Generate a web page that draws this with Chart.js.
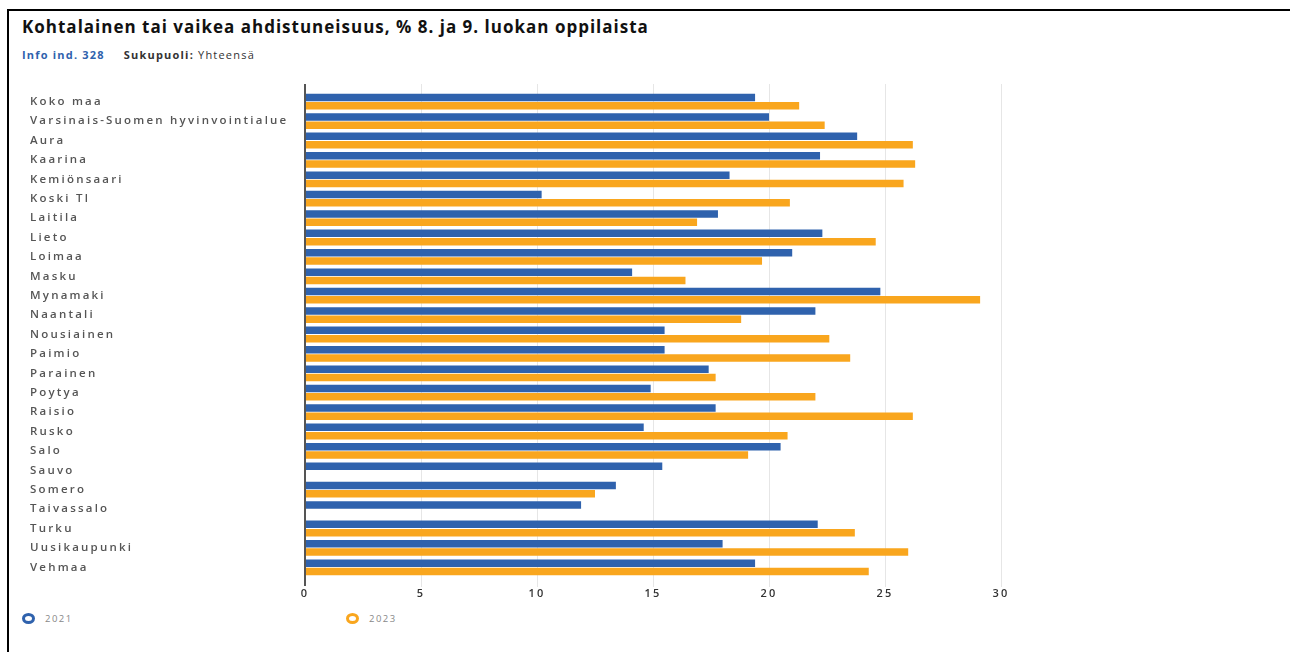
<!DOCTYPE html>
<html>
<head>
<meta charset="utf-8">
<script src="https://cdn.jsdelivr.net/npm/chart.js@4/dist/chart.umd.min.js"></script>
<style>
  body { margin: 0; width: 1290px; height: 652px; overflow: hidden; background: #fff; font-family: 'Open Sans', sans-serif; }
  .frame { position: absolute; left: 7px; top: 9px; width: 1290px; height: 650px; border-left: 2px solid #000; border-top: 2px solid #000; }
  .title { position: absolute; left: 22px; top: 15px; font-size: 17px; font-weight: 700; color: #111; white-space: nowrap; letter-spacing: 1px; }
  .sub { position: absolute; left: 22px; top: 47px; font-size: 11px; color: #333; white-space: nowrap; letter-spacing: 1.2px; }
  .sub .info { color: #2f62ad; font-weight: 700; margin-right: 19px; }
  .sub b { font-weight: 700; }
  #chart { position: absolute; left: 0; top: 76px; }
  .leg { position: absolute; top: 612px; font-size: 9.5px; color: #888; display: flex; align-items: center; letter-spacing: 1.5px; }
  .ring { width: 13px; height: 11px; border-radius: 50%; border: 3px solid; box-sizing: border-box; margin-right: 10px; }
</style>
</head>
<body>
<div class="frame"></div>
<div class="title">Kohtalainen tai vaikea ahdistuneisuus, % 8. ja 9. luokan oppilaista</div>
<div class="sub"><span class="info">Info ind. 328</span><b>Sukupuoli:</b> Yhteensä</div>
<canvas id="chart" width="1020" height="531"></canvas>
<div class="leg" style="left:22px"><span class="ring" style="border-color:#2f62ad"></span>2021</div>
<div class="leg" style="left:346px"><span class="ring" style="border-color:#f9a61e"></span>2023</div>
<script>
// data
const areas = ['Koko maa', 'Varsinais-Suomen hyvinvointialue', 'Aura', 'Kaarina', 'Kemiönsaari', 'Koski Tl',
    'Laitila', 'Lieto', 'Loimaa', 'Masku', 'Mynamaki', 'Naantali', 'Nousiainen', 'Paimio', 'Parainen',
    'Poytya', 'Raisio', 'Rusko', 'Salo', 'Sauvo', 'Somero', 'Taivassalo', 'Turku', 'Uusikaupunki', 'Vehmaa'];
const values2021 = [19.4, 20.0, 23.8, 22.2, 18.3, 10.2, 17.8, 22.3, 21.0, 14.1, 24.8, 22.0, 15.5, 15.5, 17.4,
    14.9, 17.7, 14.6, 20.5, 15.4, 13.4, 11.9, 22.1, 18.0, 19.4];
const values2023 = [21.3, 22.4, 26.2, 26.3, 25.8, 20.9, 16.9, 24.6, 19.7, 16.4, 29.1, 18.8, 22.6, 23.5, 17.7,
    22.0, 26.2, 20.8, 19.1, null, 12.5, null, 23.7, 26.0, 24.3];
const xTicks = [0, 5, 10, 15, 20, 25, 30];

const blue = '#2f62ad';
const orange = '#f9a61e';

const gridPlugin = {
    id: 'gridLines',
    beforeDraw(chart) {
        chart.ctx.letterSpacing = '2.2px';
    },
    beforeDatasetsDraw(chart) {
        const { ctx, chartArea, scales } = chart;
        ctx.save();
        ctx.strokeStyle = '#e6e6e6';
        ctx.lineWidth = 1;
        xTicks.forEach(v => {
            if (v === 0) return;
            const px = Math.round(scales.x.getPixelForValue(v)) + 0.5;
            ctx.beginPath();
            ctx.moveTo(px, chartArea.top - 8);
            ctx.lineTo(px, chartArea.bottom + 10);
            ctx.stroke();
        });
        ctx.restore();
    },
    afterDatasetsDraw(chart) {
        const { ctx, chartArea, scales } = chart;
        const px = scales.x.getPixelForValue(0);
        ctx.save();
        ctx.strokeStyle = '#555';
        ctx.lineWidth = 2;
        ctx.beginPath();
        ctx.moveTo(px, chartArea.top - 8);
        ctx.lineTo(px, chartArea.bottom + 9);
        ctx.stroke();
        ctx.restore();
    }
};

new Chart(document.getElementById('chart'), {
    type: 'bar',
    data: {
        labels: areas,
        datasets: [
            { label: '2021', data: values2021, backgroundColor: blue },
            { label: '2023', data: values2023, backgroundColor: orange }
        ]
    },
    options: {
        indexAxis: 'y',
        responsive: false,
        animation: false,
        datasets: { bar: { categoryPercentage: 0.86, barPercentage: 0.9 } },
        layout: { padding: { left: 30, top: 16, right: 19, bottom: 0 } },
        plugins: { legend: { display: false }, tooltip: { enabled: false } },
        scales: {
            x: {
                min: 0,
                max: 30,
                afterBuildTicks: s => { s.ticks = xTicks.map(v => ({ value: v })); },
                afterFit: s => { s.height = 30; },
                grid: { display: false, drawTicks: false },
                border: { display: false },
                ticks: { color: '#333', padding: 10, font: { family: 'Open Sans', size: 11, weight: '600' } }
            },
            y: {
                afterFit: s => { s.width = 275; },
                grid: { display: false, drawTicks: false },
                border: { display: false },
                ticks: { color: '#555', crossAlign: 'far', autoSkip: false, font: { family: 'Open Sans', size: 11.5, weight: '600' } }
            }
        }
    },
    plugins: [gridPlugin]
});
</script>
</body>
</html>
